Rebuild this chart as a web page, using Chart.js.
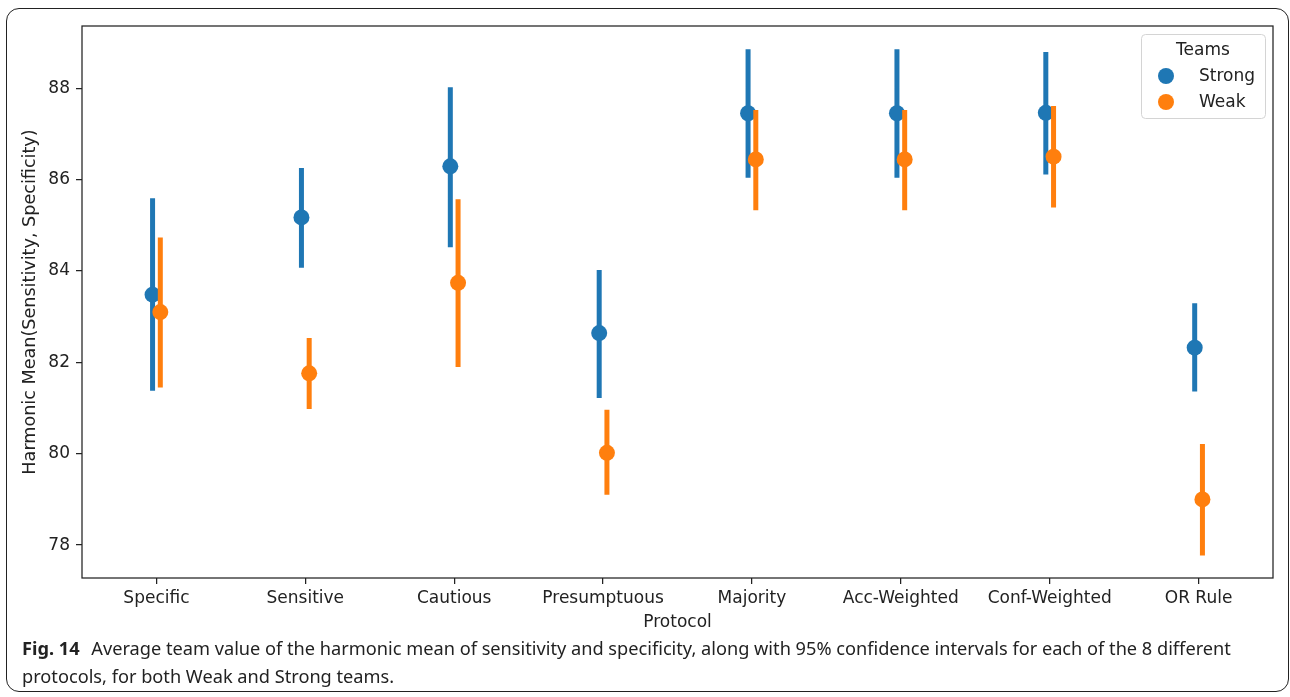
<!DOCTYPE html>
<html>
<head>
<meta charset="utf-8">
<script src="https://cdn.jsdelivr.net/npm/chart.js@4.4.1/dist/chart.umd.min.js"></script>
<style>
  body { margin: 0; background: #fff; width: 1290px; height: 697px; overflow: hidden; position: relative; }
  .frame { position: absolute; left: 6px; top: 8px; width: 1281px; height: 682px; border: 1px solid #222; border-radius: 13px; }
  #wrap { position: absolute; left: 0; top: 0; width: 1290px; height: 640px; }
  .caption { position: absolute; left: 22px; top: 634px; font-family: "Noto Sans", "Open Sans", sans-serif; font-size: 18.2px; line-height: 28px; color: #222; white-space: nowrap; }
  .caption b { font-weight: 700; margin-right: 7px; }
</style>
</head>
<body>
<div class="frame"></div>
<div id="wrap"><canvas id="chart"></canvas></div>
<div class="caption"><b>Fig. 14</b> Average team value of the harmonic mean of sensitivity and specificity, along with 95% confidence intervals for each of the 8 different<br>protocols, for both Weak and Strong teams.</div>
<script>
const protocols = ['Specific', 'Sensitive', 'Cautious', 'Presumptuous', 'Majority', 'Acc-Weighted', 'Conf-Weighted', 'OR Rule'];
const yTicks = [78, 80, 82, 84, 86, 88];

const strongMean = [83.48, 85.17, 86.29, 82.64, 87.45, 87.45, 87.46, 82.32];
const strongLow  = [81.38, 84.07, 84.52, 81.22, 86.04, 86.04, 86.11, 81.36];
const strongHigh = [85.59, 86.25, 88.02, 84.02, 88.85, 88.85, 88.79, 83.29];

const weakMean = [83.10, 81.76, 83.74, 80.02, 86.44, 86.44, 86.50, 79.00];
const weakLow  = [81.45, 80.98, 81.90, 79.10, 85.33, 85.33, 85.39, 77.77];
const weakHigh = [84.73, 82.53, 85.57, 80.96, 87.52, 87.52, 87.61, 80.21];

const BLUE = '#1f77b4';
const ORANGE = '#ff7f0e';
const dodge = 0.026;
const tickFont = { family: 'DejaVu Sans', size: 17 };

function points(mean, off) {
  return mean.map((v, i) => ({ x: i + off, y: v }));
}
function bars(lo, hi, off) {
  let out = [];
  for (let i = 0; i < lo.length; i++) {
    out.push({ x: i + off, y: lo[i] });
    out.push({ x: i + off, y: hi[i] });
    out.push({ x: i + off, y: null });
  }
  return out;
}

const boxPlugin = {
  id: 'box',
  afterDraw(chart) {
    const { ctx, chartArea: a } = chart;
    ctx.save();
    ctx.strokeStyle = '#222';
    ctx.lineWidth = 1.25;
    ctx.strokeRect(a.left, a.top, a.right - a.left, a.bottom - a.top);
    ctx.restore();
  }
};

const legendPlugin = {
  id: 'teamsLegend',
  afterDraw(chart) {
    const { ctx, chartArea: a } = chart;
    const w = 124, h = 84;
    const x = a.right - 8 - w, y = a.top + 8;
    ctx.save();
    ctx.fillStyle = 'rgba(255,255,255,0.85)';
    ctx.strokeStyle = '#d4d4d4';
    ctx.lineWidth = 1;
    ctx.beginPath();
    ctx.roundRect(x + 0.5, y + 0.5, w, h, 4);
    ctx.fill();
    ctx.stroke();
    ctx.fillStyle = '#222';
    ctx.font = '17px "DejaVu Sans"';
    ctx.textBaseline = 'middle';
    ctx.textAlign = 'center';
    ctx.fillText('Teams', x + w / 2, y + 17);
    const items = [['Strong', BLUE], ['Weak', ORANGE]];
    items.forEach(([label, col], k) => {
      const cy = y + 42 + k * 26;
      ctx.fillStyle = col;
      ctx.beginPath();
      ctx.arc(x + 25, cy, 8, 0, Math.PI * 2);
      ctx.fill();
      ctx.fillStyle = '#222';
      ctx.textAlign = 'left';
      ctx.fillText(label, x + 58, cy + 1);
    });
    ctx.restore();
  }
};

const ctx = document.getElementById('chart').getContext('2d');
new Chart(ctx, {
  type: 'scatter',
  data: {
    datasets: [
      { type: 'line', label: 'Strong CI', data: bars(strongLow, strongHigh, -dodge), borderColor: BLUE, borderWidth: 5, pointRadius: 0, spanGaps: false, borderCapStyle: 'butt', order: 4 },
      { label: 'Strong', data: points(strongMean, -dodge), backgroundColor: BLUE, pointRadius: 8, pointBorderWidth: 0, order: 3 },
      { type: 'line', label: 'Weak CI', data: bars(weakLow, weakHigh, dodge), borderColor: ORANGE, borderWidth: 5, pointRadius: 0, spanGaps: false, borderCapStyle: 'butt', order: 2 },
      { label: 'Weak', data: points(weakMean, dodge), backgroundColor: ORANGE, pointRadius: 8, pointBorderWidth: 0, order: 1 }
    ]
  },
  options: {
    responsive: true,
    maintainAspectRatio: false,
    animation: false,
    events: [],
    layout: { padding: { left: 0, right: 17, top: 26, bottom: 0 } },
    plugins: { legend: { display: false }, tooltip: { enabled: false } },
    scales: {
      x: {
        type: 'linear',
        min: -0.5,
        max: 7.5,
        afterBuildTicks: s => { s.ticks = protocols.map((_, i) => ({ value: i })); },
        afterFit: s => { s.height = 62; },
        grid: { display: true, drawOnChartArea: false, drawTicks: true, tickLength: 6, color: '#222', lineWidth: 1.25 },
        border: { display: false },
        ticks: { color: '#222', font: tickFont, padding: 4, maxRotation: 0, autoSkip: false, callback: v => protocols[v] ?? '' },
        title: { display: true, text: 'Protocol', color: '#222', font: tickFont, padding: { top: 0, bottom: 7 } }
      },
      y: {
        type: 'linear',
        min: 77.28,
        max: 89.36,
        afterBuildTicks: s => { s.ticks = yTicks.map(v => ({ value: v })); },
        afterFit: s => { s.width = 82; },
        grid: { display: true, drawOnChartArea: false, drawTicks: true, tickLength: 6, color: '#222', lineWidth: 1.25 },
        border: { display: false },
        ticks: { color: '#222', font: tickFont, padding: 6 },
        title: { display: true, text: 'Harmonic Mean(Sensitivity, Specificity)', color: '#222', font: { family: 'DejaVu Sans', size: 17.6 }, padding: { top: 20, bottom: 0 } }
      }
    }
  },
  plugins: [boxPlugin, legendPlugin]
});
</script>
</body>
</html>
